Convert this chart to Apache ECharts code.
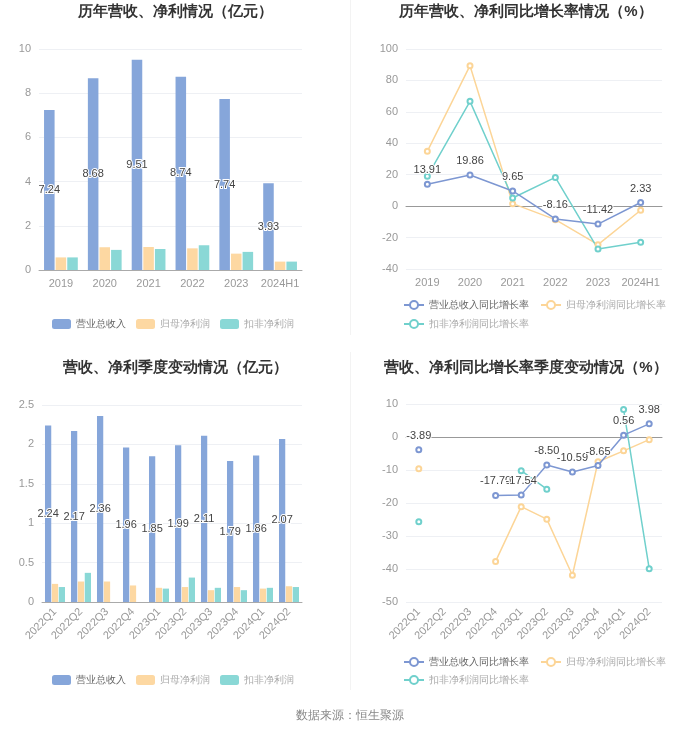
<!DOCTYPE html>
<html>
<head>
<meta charset="utf-8">
<script src="https://cdn.jsdelivr.net/npm/echarts@6/dist/echarts.min.js"></script>
<style>
html,body{margin:0;padding:0;background:#fff;}
#main{width:700px;height:734px;}
</style>
</head>
<body>
<div id="main"></div>
<script>
// ---- data ----
const yearCats = ['2019', '2020', '2021', '2022', '2023', '2024H1'];
const yearRevenue = [7.24, 8.68, 9.51, 8.74, 7.74, 3.93];
const yearNetProfit = [0.57, 1.03, 1.04, 0.98, 0.74, 0.38];
const yearDeductedProfit = [0.57, 0.91, 0.95, 1.12, 0.82, 0.38];
const yearRevenueGrowth = [13.91, 19.86, 9.65, -8.16, -11.42, 2.33];
const yearNetProfitGrowth = [34.9, 89.4, 1.6, -8.6, -24.5, -2.6];
const yearDeductedGrowth = [19.0, 66.7, 5.2, 18.3, -27.3, -23.0];

const quarterCats = ['2022Q1', '2022Q2', '2022Q3', '2022Q4', '2023Q1', '2023Q2', '2023Q3', '2023Q4', '2024Q1', '2024Q2'];
const qRevenue = [2.24, 2.17, 2.36, 1.96, 1.85, 1.99, 2.11, 1.79, 1.86, 2.07];
const qNetProfit = [0.23, 0.26, 0.26, 0.21, 0.18, 0.19, 0.15, 0.19, 0.17, 0.20];
const qDeductedProfit = [0.19, 0.37, null, null, 0.17, 0.31, 0.18, 0.15, 0.18, 0.19];
const qRevenueGrowth = [-3.89, null, null, -17.70, -17.54, -8.50, -10.59, -8.65, 0.56, 3.98];
const qNetProfitGrowth = [-9.6, null, null, -37.7, -21.1, -24.9, -41.9, -7.5, -4.2, -0.8];
const qDeductedGrowth = [-25.7, null, null, null, -10.2, -15.8, null, null, 8.3, -39.9];

const barNames = ['营业总收入', '归母净利润', '扣非净利润'];
const lineNames = ['营业总收入同比增长率', '归母净利润同比增长率', '扣非净利润同比增长率'];
const titles = ['历年营收、净利情况（亿元）', '历年营收、净利同比增长率情况（%）', '营收、净利季度变动情况（亿元）', '营收、净利同比增长率季度变动情况（%）'];
const sourceText = '数据来源：恒生聚源';

// ---- styles ----
const C_BLUE = '#86a6da', C_ORANGE = '#fdd8a2', C_TEAL = '#8ad8d6';
const L_BLUE = '#7d97d2', L_ORANGE = '#fcd597', L_TEAL = '#70d0cc';
const axisLabel = {color: '#999', fontSize: 11, interval: 0};
const splitLine = {lineStyle: {color: '#eef0f4'}};
const fmt2 = p => (p.value == null ? '' : Number(p.value).toFixed(2));
const valLabel = {show: true, color: '#444', fontSize: 11, textBorderColor: '#fff', textBorderWidth: 2, formatter: fmt2};

function legendData(names, first) {
  return names.map((n, i) => ({name: n, textStyle: {color: (first && i === 0) ? '#666' : '#aaa'}}));
}

const grids = [
  {left: 39, top: 49, width: 263, height: 221},
  {left: 406, top: 49, width: 256, height: 220},
  {left: 42, top: 405, width: 260, height: 197},
  {left: 406, top: 404, width: 256, height: 198}
];

const titleStyle = {fontSize: 15, fontWeight: 'bold', color: '#333'};
const barLegend = {itemWidth: 19, itemHeight: 10, itemGap: 10, textStyle: {fontSize: 10}};
const lineLegend = {itemWidth: 20, itemHeight: 10, itemGap: 11, textStyle: {fontSize: 10}};

const option = {
  animation: false,
  backgroundColor: '#fff',
  title: [
    {text: titles[0], left: 175, top: 4, textAlign: 'center', padding: 0, textStyle: titleStyle},
    {text: titles[1], left: 526, top: 4, textAlign: 'center', padding: 0, textStyle: titleStyle},
    {text: titles[2], left: 175, top: 360, textAlign: 'center', padding: 0, textStyle: titleStyle},
    {text: titles[3], left: 526, top: 360, textAlign: 'center', padding: 0, textStyle: titleStyle},
    {text: sourceText, left: 350, top: 710, textAlign: 'center', padding: 0,
      textStyle: {fontSize: 12, fontWeight: 'normal', color: '#888'}}
  ],
  grid: grids,
  legend: [
    Object.assign({data: legendData(barNames, true), left: 47, top: 314}, barLegend),
    Object.assign({data: legendData(lineNames.slice(0, 2), true), left: 398, top: 295}, lineLegend),
    Object.assign({data: legendData(lineNames.slice(2), false), left: 398, top: 314}, lineLegend),
    Object.assign({data: legendData(barNames, true), left: 47, top: 670}, barLegend),
    Object.assign({data: legendData(lineNames.slice(0, 2), true), left: 398, top: 652}, lineLegend),
    Object.assign({data: legendData(lineNames.slice(2), false), left: 398, top: 670}, lineLegend)
  ],
  xAxis: [
    {gridIndex: 0, type: 'category', data: yearCats, axisLabel: axisLabel,
      axisLine: {lineStyle: {color: '#aaa'}}, axisTick: {alignWithLabel: true, lineStyle: {color: '#aaa'}}},
    {gridIndex: 1, type: 'category', data: yearCats, position: 'bottom', axisLabel: axisLabel,
      axisLine: {show: false, onZero: false}, axisTick: {show: false}},
    {gridIndex: 1, type: 'category', data: yearCats, position: 'top', axisLabel: {show: false},
      axisLine: {onZero: true, lineStyle: {color: '#999'}}, axisTick: {inside: true, alignWithLabel: true, lineStyle: {color: '#999'}}},
    {gridIndex: 2, type: 'category', data: quarterCats, axisLabel: Object.assign({rotate: 45}, axisLabel),
      axisLine: {lineStyle: {color: '#aaa'}}, axisTick: {alignWithLabel: true, lineStyle: {color: '#aaa'}}},
    {gridIndex: 3, type: 'category', data: quarterCats, position: 'bottom', axisLabel: Object.assign({rotate: 45}, axisLabel),
      axisLine: {show: false, onZero: false}, axisTick: {show: false}},
    {gridIndex: 3, type: 'category', data: quarterCats, position: 'top', axisLabel: {show: false},
      axisLine: {onZero: true, lineStyle: {color: '#999'}}, axisTick: {inside: true, alignWithLabel: true, lineStyle: {color: '#999'}}}
  ],
  yAxis: [
    {gridIndex: 0, type: 'value', min: 0, max: 10, interval: 2, axisLabel: axisLabel, splitLine: splitLine},
    {gridIndex: 1, type: 'value', min: -40, max: 100, interval: 20, axisLabel: axisLabel, splitLine: splitLine},
    {gridIndex: 2, type: 'value', min: 0, max: 2.5, interval: 0.5, axisLabel: axisLabel, splitLine: splitLine},
    {gridIndex: 3, type: 'value', min: -50, max: 10, interval: 10, axisLabel: axisLabel, splitLine: splitLine}
  ],
  series: [
    {name: barNames[0], type: 'bar', xAxisIndex: 0, yAxisIndex: 0, data: yearRevenue, itemStyle: {color: C_BLUE},
      label: Object.assign({position: 'inside'}, valLabel)},
    {name: barNames[1], type: 'bar', xAxisIndex: 0, yAxisIndex: 0, data: yearNetProfit, itemStyle: {color: C_ORANGE}},
    {name: barNames[2], type: 'bar', xAxisIndex: 0, yAxisIndex: 0, data: yearDeductedProfit, itemStyle: {color: C_TEAL}},

    {name: lineNames[0], type: 'line', xAxisIndex: 1, yAxisIndex: 1, data: yearRevenueGrowth, symbol: 'emptyCircle', symbolSize: 5,
      itemStyle: {color: L_BLUE}, lineStyle: {width: 1.5}, label: Object.assign({position: 'top'}, valLabel), z: 5},
    {name: lineNames[1], type: 'line', xAxisIndex: 1, yAxisIndex: 1, data: yearNetProfitGrowth, symbol: 'emptyCircle', symbolSize: 5,
      itemStyle: {color: L_ORANGE}, lineStyle: {width: 1.5}},
    {name: lineNames[2], type: 'line', xAxisIndex: 1, yAxisIndex: 1, data: yearDeductedGrowth, symbol: 'emptyCircle', symbolSize: 5,
      itemStyle: {color: L_TEAL}, lineStyle: {width: 1.5}},

    {name: barNames[0], type: 'bar', xAxisIndex: 3, yAxisIndex: 2, data: qRevenue, itemStyle: {color: C_BLUE},
      label: Object.assign({position: 'inside'}, valLabel)},
    {name: barNames[1], type: 'bar', xAxisIndex: 3, yAxisIndex: 2, data: qNetProfit, itemStyle: {color: C_ORANGE}},
    {name: barNames[2], type: 'bar', xAxisIndex: 3, yAxisIndex: 2, data: qDeductedProfit, itemStyle: {color: C_TEAL}},

    {name: lineNames[0], type: 'line', xAxisIndex: 4, yAxisIndex: 3, data: qRevenueGrowth, symbol: 'emptyCircle', symbolSize: 5,
      itemStyle: {color: L_BLUE}, lineStyle: {width: 1.5}, label: Object.assign({position: 'top'}, valLabel), z: 5},
    {name: lineNames[1], type: 'line', xAxisIndex: 4, yAxisIndex: 3, data: qNetProfitGrowth, symbol: 'emptyCircle', symbolSize: 5,
      itemStyle: {color: L_ORANGE}, lineStyle: {width: 1.5}},
    {name: lineNames[2], type: 'line', xAxisIndex: 4, yAxisIndex: 3, data: qDeductedGrowth, symbol: 'emptyCircle', symbolSize: 5,
      itemStyle: {color: L_TEAL}, lineStyle: {width: 1.5}}
  ],
  graphic: [
    {type: 'line', shape: {x1: 350.5, y1: 0, x2: 350.5, y2: 335}, style: {stroke: '#f3f3f3', lineWidth: 1}, silent: true},
    {type: 'line', shape: {x1: 350.5, y1: 352, x2: 350.5, y2: 690}, style: {stroke: '#f3f3f3', lineWidth: 1}, silent: true}
  ]
};

const chart = echarts.init(document.getElementById('main'));
chart.setOption(option);
</script>
</body>
</html>
